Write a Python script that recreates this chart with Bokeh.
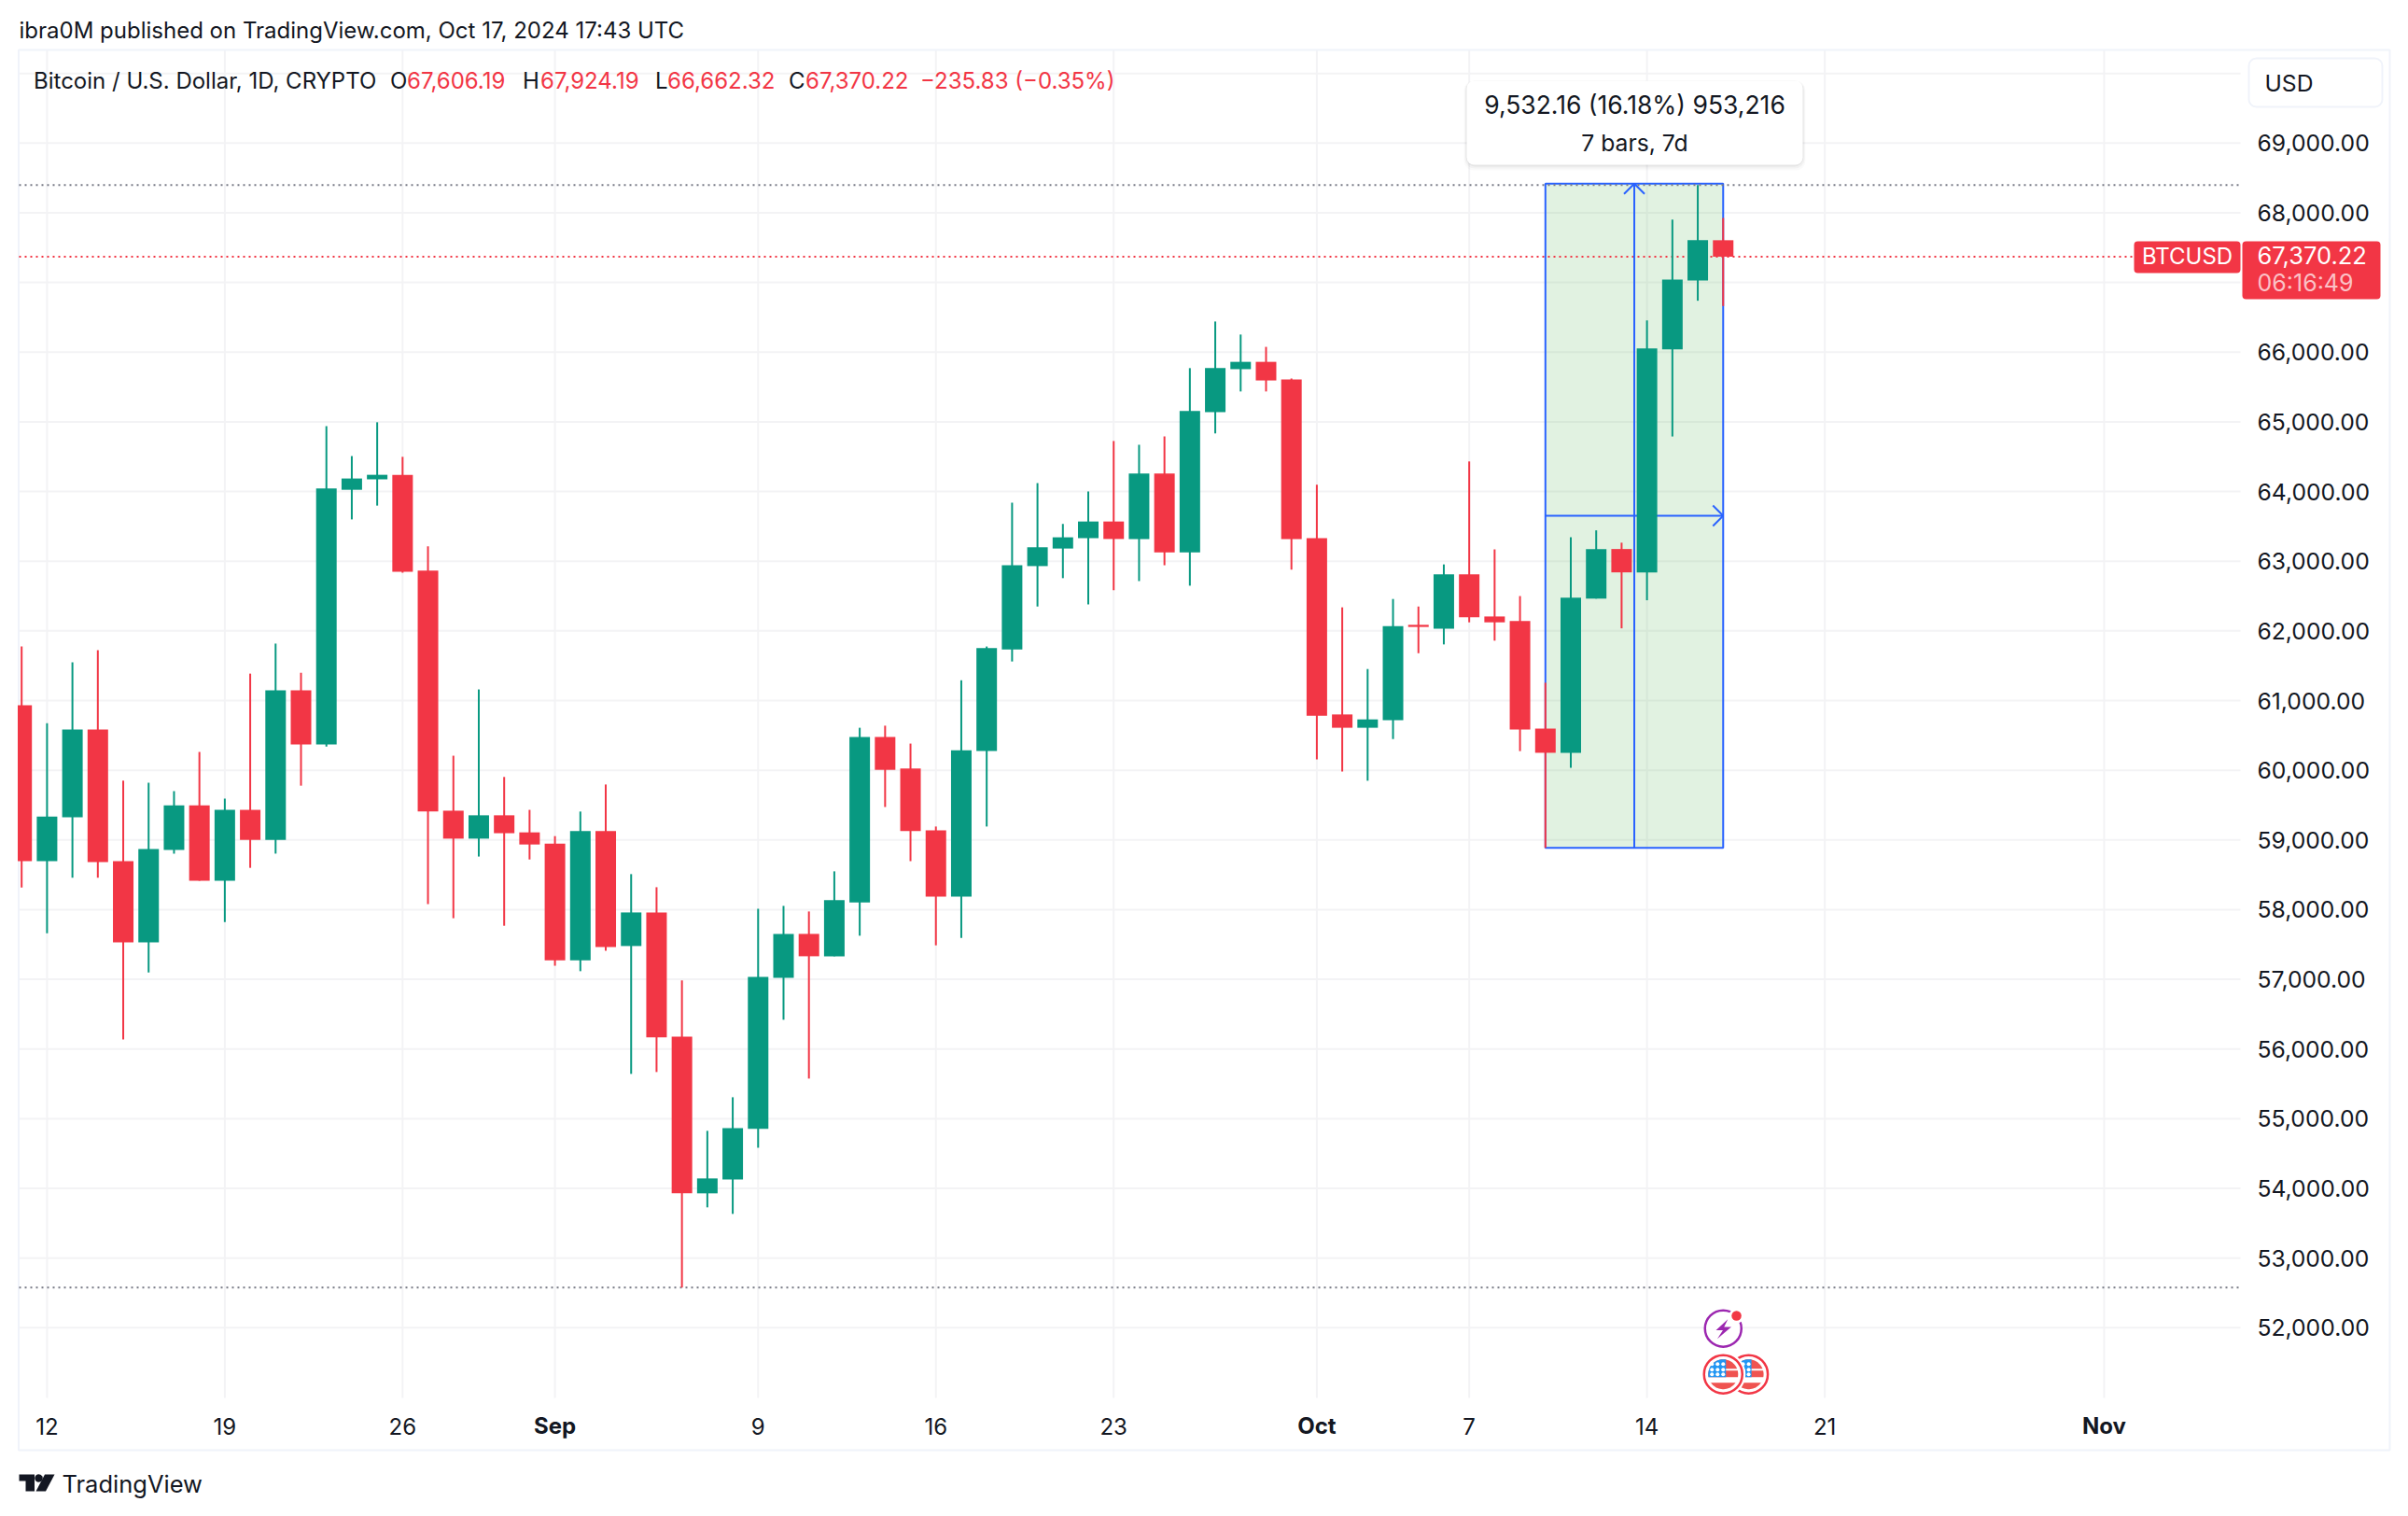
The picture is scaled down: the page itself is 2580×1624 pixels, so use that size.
import numpy as np
import pandas as pd
from bokeh.plotting import figure
from bokeh.models import (Range1d, FixedTicker, Label, BoxAnnotation, PolyAnnotation, NumeralTickFormatter)
from bokeh.embed import file_html
from bokeh.resources import INLINE

# ---------- data ----------
first_date = "2024-08-11"
opens = [60933,58696,59324,60586,58696,57530,58857,59497,58415,59432,59001,61148,60371,64025,64175,64240,62865,59420,59019,59354,59109,58947,57273,59127,
         57478,57960,56179,53929,54129,54853,57023,57652,57331,58104,60478,60024,59139,58188,60275,61734,62930,63182,63331,63570,63319,64258,63128,65140,65756,65861,65608,
         63331,60801,60610,60718,62087,62033,62811,62207,62141,60598,60251,62463,63175,62840,66040,67029,67606.19]
highs = [61776,60676,61549,61722,59850,59820,59701,60263,59593,61387,61818,61399,64940,64509,64994,64498,63212,60209,61160,59904,59432,59055,59408,59796,
         58510,58322,56983,54826,55308,58014,58054,57974,58550,60610,60640,60383,59193,61292,61776,63840,64121,63535,64001,64725,64671,64791,65771,66440,66253,66076,65622,
         64097,62338,61453,62458,62350,62954,64432,63170,62500,61256,63343,63443,63266,66454,67902,68398,67924.19]
lows = [58319,57661,58457,58457,56136,57099,58804,58415,57823,58600,58804,59779,60341,63600,63798,62835,58080,57877,58762,57769,58720,57195,57117,57410,
        55643,55670,52576,53728,53634,54585,56420,55576,57331,57626,59473,58696,57488,57595,59193,61561,62350,62757,62380,62584,62715,62942,62649,64834,65436,65436,62879,
        60155,59982,59850,60448,61680,61806,62123,61860,60275,58887,60036,62463,62037,62439,64790,66738,66662.32]
closes = [58696,59336,60586,58684,57530,58870,59497,58415,59432,59001,61148,60371,64043,64187,64240,62847,59408,59019,59354,59097,58935,57273,59127,57464,
          57960,56166,53929,54143,54866,57036,57652,57331,58135,60478,60006,59127,58188,60287,61752,62942,63200,63343,63570,63319,64258,63128,65155,65771,65861,65594,63318,
          60783,60610,60730,62069,62057,62811,62195,62123,60586,60251,62476,63175,62840,66053,67043,67606,67370.22]

price_ticks = [52000,53000,54000,55000,56000,57000,58000,59000,60000,61000,62000,63000,64000,65000,66000,67000,68000,69000]
price_labels_skip = [67000]
grid_extra_price = [70000]
time_tick_dates = ["2024-08-12","2024-08-19","2024-08-26","2024-09-01","2024-09-09","2024-09-16","2024-09-23","2024-10-01","2024-10-07","2024-10-14","2024-10-21","2024-11-01"]
time_tick_labels = ["12","19","26","Sep","9","16","23","Oct","7","14","21","Nov"]
month_labels = ["Sep","Oct","Nov"]

last_price = 67370.22
range_high = 68398
range_low = 52576
box_dates = ["2024-10-10","2024-10-17"]
box_low, box_high = 58887, 68419

UP, DOWN = "#089981", "#f23645"
INK = "#131722"
GRID = "#f3f3f5"
BLUE = "#2962ff"
FONT = "Inter"

# ---------- layout constants: page pixels of the pane ----------
OFF = 0                # where the canvas starts on the page
FL, FR, FT, FB = 20, 2400, 53, 1497
W, H = 2572, 1616
PX_PER_DAY = 27.21
X0PX = 49.9            # pixel of 2024-08-12
PX_PER_USD = 0.07465
Y65 = 451.4            # pixel of 65,000

def d_of(s):
    return (pd.Timestamp(s) - pd.Timestamp("2024-08-12")).days
def dx(px):
    return (px - X0PX) / PX_PER_DAY
def dy(py):
    return 65000 + (Y65 - py) / PX_PER_USD
def sx(px):
    return px - OFF
def sy(py):
    return OFF + H - py

p = figure(width=W, height=H, output_backend="svg", toolbar_location=None,
           x_range=Range1d(dx(OFF), dx(OFF + W)), y_range=Range1d(dy(OFF + H), dy(OFF)),
           y_axis_location="right", min_border=0,
           background_fill_color="white", border_fill_color="white", outline_line_color=None)
p.grid.visible = False

# axes, held at the pane's edges
ya = p.yaxis[0]
ya.fixed_location = dx(FR)
ya.ticker = FixedTicker(ticks=price_ticks)
ya.major_label_overrides = {t: "" for t in price_labels_skip}
ya.formatter = NumeralTickFormatter(format="0,0.00")
ya.major_tick_line_color = None
ya.minor_tick_line_color = None
ya.axis_line_color = None
ya.major_label_standoff = 12
ya.major_label_text_font = FONT
ya.major_label_text_font_size = "24.7px"
ya.major_label_text_color = INK

xa = p.xaxis[0]
xa.fixed_location = dy(FB)
day_ticks = [d_of(s) for s in time_tick_dates]
xa.ticker = FixedTicker(ticks=day_ticks)
xa.major_label_overrides = {t: ("" if l in month_labels else l) for t, l in zip(day_ticks, time_tick_labels)}
xa.major_tick_line_color = None
xa.minor_tick_line_color = None
xa.axis_line_color = None
xa.major_label_standoff = 15
xa.major_label_text_font = FONT
xa.major_label_text_font_size = "24px"
xa.major_label_text_color = INK

# grid lines confined to the pane
gy = price_ticks + grid_extra_price
p.segment([dx(FL)] * len(gy), gy, [dx(FR)] * len(gy), gy, line_color=GRID, line_width=2, level="underlay")
p.segment(day_ticks, [dy(FB)] * len(day_ticks), day_ticks, [dy(FT)] * len(day_ticks), line_color=GRID, line_width=2, level="underlay")

# outer frame
p.quad(left=[dx(19.5)], right=[dx(2560)], bottom=[dy(1553)], top=[dy(53)], fill_color=None,
       line_color="#f0f3fa", line_width=2, level="underlay")

# range box and price lines
bx0, bx1 = d_of(box_dates[0]), d_of(box_dates[1])
bxm = (bx0 + bx1) / 2
bym = (box_low + box_high) / 2
p.quad(left=[bx0], right=[bx1], bottom=[box_low], top=[box_high], fill_color="#4caf50", fill_alpha=0.17,
       line_color=BLUE, line_width=2, level="underlay")
for lv, col in [(range_high, "#787b86"), (range_low, "#787b86"), (last_price, DOWN)]:
    p.segment([dx(FL)], [lv], [dx(FR)], [lv], line_color=col, line_width=2, line_dash="2 4")

chev_x = 11 / PX_PER_DAY
chev_y = 11 / PX_PER_USD
p.segment([bxm, bx0, bxm, bxm, bx1, bx1], [box_low, bym, box_high, box_high, bym, bym],
          [bxm, bx1, bxm - chev_x, bxm + chev_x, bx1 - chev_x, bx1 - chev_x],
          [box_high, bym, box_high - chev_y, box_high - chev_y, bym + chev_y, bym - chev_y],
          line_color=BLUE, line_width=2)

# candles
days = [d_of(first_date) + i for i in range(len(opens))]
colors = [UP if c >= o else DOWN for o, c in zip(opens, closes)]
p.segment(days, highs, days, lows, line_color=colors, line_width=2)
p.vbar(x=days, top=[max(o, c) for o, c in zip(opens, closes)], bottom=[min(o, c) for o, c in zip(opens, closes)],
       width=22 / PX_PER_DAY, fill_color=colors, line_color=None)

# event icons
ix = d_of(box_dates[1])
ICX = X0PX + ix * PX_PER_DAY
def ring(cx, cy, r, color, lw):
    p.scatter([dx(cx)], [dy(cy)], size=2 * r, marker="circle", fill_color="white", line_color=color, line_width=lw)
def poly(cx, cy, pts, color):
    p.patch([dx(cx + a) for a, b in pts], [dy(cy + b) for a, b in pts], fill_color=color, line_color=None)

def disc_rect(cx, cy, r, x0, x1, y0, y1, color):
    n = 24
    rect = ([(a, y0) for a in np.linspace(x0, x1, n)] + [(x1, b) for b in np.linspace(y0, y1, n)] +
            [(a, y1) for a in np.linspace(x1, x0, n)] + [(x0, b) for b in np.linspace(y1, y0, n)])
    pts = []
    for a, b in rect:
        d = (a * a + b * b) ** 0.5
        if d > r:
            a, b = a * r / d, b * r / d
        pts.append((a, b))
    poly(cx, cy, pts, color)

def flag(cx, cy):
    p.scatter([dx(cx)], [dy(cy)], size=48, marker="circle", fill_color="white", line_color=None)
    ring(cx, cy, 20.5, DOWN, 2.5)
    for y0, y1 in [(-16, -6), (-4, 3), (9, 16)]:
        disc_rect(cx, cy, 16, -16, 16, y0, y1, "#ef5350")
    disc_rect(cx, cy, 16, -16, 3, -16, 3, "#2196f3")
    xs = [cx + a for a in [-12, -6, 0, -12, -6, 0, -12, -6, 0]]
    ys = [cy + b for b in [-11, -11, -11, -5, -5, -5, 0, 0, 0]]
    p.scatter([dx(a) for a in xs], [dy(b) for b in ys], size=4, marker="circle", fill_color="white", line_color=None)

flag(ICX + 27.3, 1471.7)
flag(ICX, 1471.7)
ring(ICX, 1422.7, 19.5, "#9c27b0", 2.5)
poly(ICX, 1422.7, [(5, -10), (-7.7, 1.7), (-0.3, 1.7), (-6.3, 11), (8.7, -1.7), (1, -1.7)], "#9c27b0")
p.scatter([dx(ICX + 14.3)], [dy(1409)], size=16, marker="circle", fill_color="white", line_color=None)
p.scatter([dx(ICX + 14.3)], [dy(1409)], size=10.5, marker="circle", fill_color=DOWN, line_color=None)

# text helper
def text(px, py, s, color=INK, align="left", style="normal", size="24px"):
    p.add_layout(Label(x=sx(px), y=sy(py), x_units="screen", y_units="screen", text=s, text_font=FONT,
                       text_font_size=size, text_color=color, text_align=align, text_baseline="middle",
                       text_font_style=style, level="overlay"))

def box(l, t, r, b, fill, line=None, radius=0, alpha=1.0, lw=1):
    p.add_layout(BoxAnnotation(left=sx(l), right=sx(r), top=sy(t), bottom=sy(b),
                               left_units="screen", right_units="screen", top_units="screen", bottom_units="screen",
                               fill_color=fill, fill_alpha=alpha, line_color=line, line_width=lw, line_alpha=1 if line else 0,
                               border_radius=radius, level="overlay"))

# white strip that trims the first candle at the pane's left edge
box(0, 53, 18.5, 1553, "white")

# month labels on the time axis
for d, l in zip(day_ticks, time_tick_labels):
    if l in month_labels:
        p.add_layout(Label(x=d, y=sy(1527), x_units="data", y_units="screen", text=l, text_font=FONT, text_font_size="24px",
                           text_color=INK, text_align="center", text_baseline="middle", text_font_style="bold", level="overlay"))

# header
text(20, 32, "ibra0M published on TradingView.com, Oct 17, 2024 17:43 UTC")
LY = 85.5
text(35.5, LY, "Bitcoin / U.S. Dollar, 1D, CRYPTO")
text(417.5, LY, "O"); text(435.5, LY, "67,606.19", DOWN)
text(559.5, LY, "H"); text(578.5, LY, "67,924.19", DOWN)
text(701.5, LY, "L"); text(714.5, LY, "66,662.32", DOWN)
text(844.5, LY, "C"); text(862.5, LY, "67,370.22", DOWN)
text(985.5, LY, "\u2212235.83 (\u22120.35%)", DOWN)

# USD button
box(2409, 62, 2552, 114, "white", "#f0f3fa", 8, lw=2)
text(2426, 88, "USD", size="24.7px")

# callout with shadow
for off, a in [(6, 0.02), (4, 0.03), (2, 0.05)]:
    box(1571 - off / 2, 86, 1931 + off / 2, 176 + off, "#000000", None, 10, a)
box(1571, 86, 1931, 176, "white", None, 8)
text(1751, 111, "9,532.16 (16.18%) 953,216", align="center", size="26.5px")
text(1751, 152, "7 bars, 7d", align="center", size="24.7px")

# price tags
box(2286, 258, 2400, 292, DOWN, None, 4)
text(2343, 274, "BTCUSD", "white", "center")
box(2402, 258, 2550, 320, DOWN, None, 4)
text(2418, 272.5, "67,370.22", "white", size="25.5px")
text(2418, 302, "06:16:49", "#fbc1c6", size="25px")

# logo
def logo_poly(pts):
    p.add_layout(PolyAnnotation(xs=[sx(a) for a, b in pts], ys=[sy(b) for a, b in pts], xs_units="screen", ys_units="screen",
                                fill_color=INK, fill_alpha=1, line_color=None, level="overlay"))
logo_poly([(20, 1579), (36.5, 1579), (36.5, 1597), (27, 1597), (27, 1586), (20, 1586)])
t = np.linspace(0, 2 * np.pi, 24)
logo_poly([(41 + 4.2 * np.cos(a), 1583 + 4.2 * np.sin(a)) for a in t])
logo_poly([(47.5, 1579), (58, 1579), (48.5, 1597), (38, 1597)])
text(66, 1589, "TradingView", size="25.5px")

open("out.html", "w").write(file_html(p, INLINE))
